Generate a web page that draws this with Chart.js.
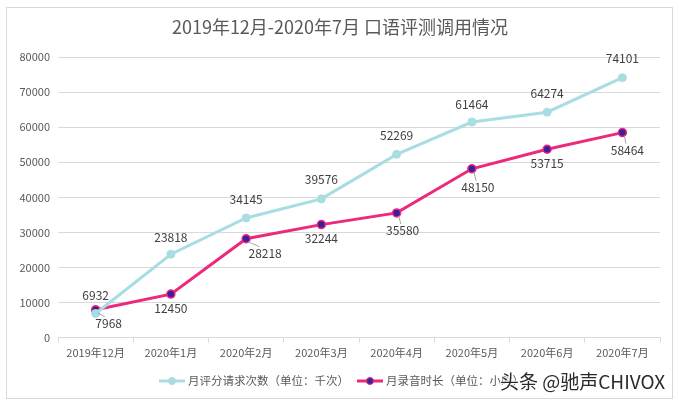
<!DOCTYPE html>
<html>
<head>
<meta charset="utf-8">
<script src="https://cdn.jsdelivr.net/npm/chart.js@4/dist/chart.umd.min.js"></script>
<style>
html,body{margin:0;padding:0;background:#fff;}
#wrap{position:absolute;left:0;top:0;width:679px;height:407px;}
</style>
</head>
<body>
<div id="wrap"><canvas id="c" width="679" height="407"></canvas></div>
<script>
const categories = ['2019年12月','2020年1月','2020年2月','2020年3月','2020年4月','2020年5月','2020年6月','2020年7月'];
const requests = [6932, 23818, 34145, 39576, 52269, 61464, 64274, 74101];
const hours = [7968, 12450, 28218, 32244, 35580, 48150, 53715, 58464];
const seriesNames = ['月评分请求次数（单位：千次）', '月录音时长（单位：小时）'];
const yTicks = [0, 10000, 20000, 30000, 40000, 50000, 60000, 70000, 80000];
const titleText = '2019年12月-2020年7月 口语评测调用情况';
const watermark = '头条 @驰声CHIVOX';

const FONT = '"Noto Sans CJK SC", "Noto Sans", sans-serif';
const TXT = '#595959';
const C1 = '#a8dde2';
const C2 = '#ec297b';
const P2 = '#3b1f9e';

// label offsets (dx, dy) relative to point, and whether a leader line is drawn
const lab1 = [[0,-18,false],[0,-17,false],[0,-19,false],[0,-19,false],[0,-19,false],[0,-18,false],[0,-19,false],[0,-19,false]];
const lab2 = [[13,14,true],[0,14,false],[19,15,true],[0,14,false],[6,18,true],[6,19,true],[0,14,false],[5,18,true]];

const extras = {
  id: 'extras',
  beforeDraw(chart) {
    const ctx = chart.ctx;
    ctx.save();
    ctx.fillStyle = '#fff';
    ctx.fillRect(0,0,chart.width,chart.height);
    ctx.strokeStyle = '#d9d9d9';
    ctx.lineWidth = 1;
    ctx.strokeRect(6.5, 7.5, 666, 391);
    ctx.restore();
  },
  afterDatasetsDraw(chart) {
    const ctx = chart.ctx;
    const xs = chart.scales.x, ys = chart.scales.y;
    ctx.save();
    ctx.font = '12px ' + FONT;
    ctx.fillStyle = '#404040';
    ctx.textAlign = 'center';
    ctx.textBaseline = 'middle';
    requests.forEach((v,i) => {
      const x = xs.getPixelForValue(i), y = ys.getPixelForValue(v);
      ctx.fillText(String(v), x + lab1[i][0], y + lab1[i][1]);
    });
    hours.forEach((v,i) => {
      const x = xs.getPixelForValue(i), y = ys.getPixelForValue(v);
      const [dx,dy,lead] = lab2[i];
      if (lead) {
        ctx.strokeStyle = '#a6a6a6';
        ctx.lineWidth = 1;
        ctx.beginPath();
        ctx.moveTo(x + 2, y + 3);
        ctx.lineTo(x + dx*0.7, y + dy - 7);
        ctx.stroke();
      }
      ctx.fillText(String(v), x + dx, y + dy);
    });
    ctx.restore();
  },
  afterDraw(chart) {
    const ctx = chart.ctx;
    ctx.save();
    // title
    ctx.font = '18px ' + FONT;
    ctx.fillStyle = TXT;
    ctx.textAlign = 'center';
    ctx.textBaseline = 'middle';
    ctx.fillText(titleText, 340, 27);
    // legend
    ctx.font = '11.5px ' + FONT;
    ctx.textAlign = 'left';
    const ly = 381;
    let x = 159;
    const items = [[C1, C1, seriesNames[0]], [C2, P2, seriesNames[1]]];
    items.forEach(([lc, pc, name], k) => {
      ctx.strokeStyle = lc; ctx.lineWidth = 3;
      ctx.beginPath(); ctx.moveTo(x, ly); ctx.lineTo(x + 26, ly); ctx.stroke();
      ctx.fillStyle = pc; ctx.strokeStyle = lc; ctx.lineWidth = 1;
      ctx.beginPath(); ctx.arc(x + 13, ly, 3.5, 0, Math.PI*2); ctx.fill(); ctx.stroke();
      ctx.fillStyle = TXT;
      ctx.fillText(name, x + 29, ly);
      x += 29 + ctx.measureText(name).width + 8;
    });
    // watermark
    ctx.font = '19px ' + FONT;
    ctx.lineWidth = 2;
    ctx.strokeStyle = 'rgba(255,255,255,0.8)';
    ctx.lineJoin = 'round';
    ctx.strokeText(watermark, 500, 382);
    ctx.fillStyle = '#2a2a2a';
    ctx.fillText(watermark, 500, 382);
    ctx.restore();
  }
};

new Chart(document.getElementById('c'), {
  type: 'line',
  data: {
    labels: categories,
    datasets: [
      { label: seriesNames[0], data: requests, borderColor: C1, backgroundColor: C1,
        borderWidth: 3, pointRadius: 4, pointBackgroundColor: C1, pointBorderColor: C1, pointBorderWidth: 1, tension: 0 },
      { label: seriesNames[1], data: hours, borderColor: C2, backgroundColor: P2,
        borderWidth: 3, pointRadius: 4, pointBackgroundColor: P2, pointBorderColor: C2, pointBorderWidth: 1.5, tension: 0 }
    ]
  },
  options: {
    responsive: false,
    animation: false,
    events: [],
    layout: { padding: { left: 12, right: 19, top: 57, bottom: 45 } },
    plugins: { legend: { display: false }, title: { display: false }, tooltip: { enabled: false } },
    scales: {
      x: {
        offset: true,
        grid: { display: true, offset: true, drawOnChartArea: false, drawTicks: true, tickLength: 5, color: '#d9d9d9' },
        border: { display: true, color: '#d9d9d9' },
        ticks: { color: TXT, font: { size: 11, family: FONT }, padding: 3, maxRotation: 0, autoSkip: false }
      },
      y: {
        min: 0, max: 80000,
        afterBuildTicks(axis) { axis.ticks = yTicks.map(v => ({ value: v })); },
        afterFit(axis) { axis.width = 46; },
        grid: { color: '#d9d9d9', drawTicks: false },
        border: { display: false },
        ticks: { color: TXT, font: { size: 11, family: FONT }, padding: 8, callback: (v) => String(v) }
      }
    }
  },
  plugins: [extras]
});
</script>
</body>
</html>
